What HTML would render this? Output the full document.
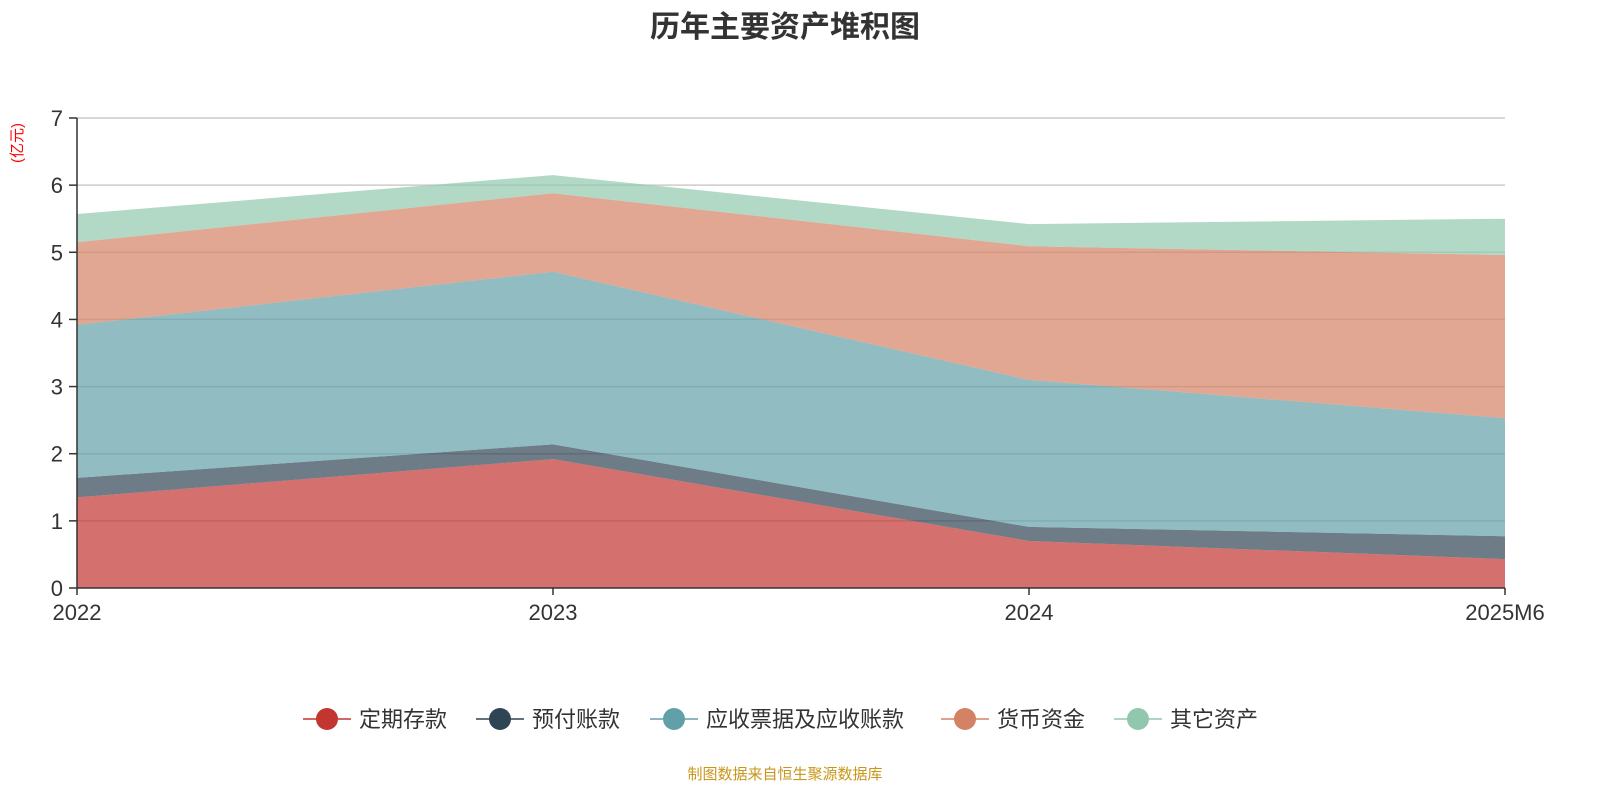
<!DOCTYPE html>
<html><head><meta charset="utf-8"><style>
body{margin:0;background:#fff;font-family:"Liberation Sans","Noto Sans CJK SC",sans-serif;}
</style></head><body>
<svg id="c" width="1600" height="800" xmlns="http://www.w3.org/2000/svg">
<text x="785" y="37" text-anchor="middle" font-size="30" font-weight="bold" fill="#333" font-family="Liberation Sans, Noto Sans CJK SC, sans-serif">历年主要资产堆积图</text>
<text transform="translate(22,143) rotate(-90)" text-anchor="middle" font-size="15" fill="#f00" font-family="Liberation Sans, Noto Sans CJK SC, sans-serif">(亿元)</text>
<g id="grid"></g><g id="areas"></g><g id="axes"></g><g id="legend"></g>
<text x="785" y="779" text-anchor="middle" font-size="15" fill="#c9961a" font-family="Liberation Sans, Noto Sans CJK SC, sans-serif">制图数据来自恒生聚源数据库</text>
</svg>
<script>
const categories=["2022","2023","2024","2025M6"];
const seriesNames=["定期存款","预付账款","应收票据及应收账款","货币资金","其它资产"];
const s0=[1.35,1.92,0.70,0.43];
const s1=[0.29,0.22,0.21,0.34];
const s2=[2.28,2.57,2.19,1.76];
const s3=[1.23,1.17,1.99,2.43];
const s4=[0.42,0.27,0.33,0.54];
const yTicks=[0,1,2,3,4,5,6,7];
const colors=["#c23531","#2f4554","#61a0a8","#d48265","#91c7ae"];
const NS="http://www.w3.org/2000/svg";
const X0=77,X1=1505,Y0=588,Y1=118,YMAX=7;
const xs=i=>X0+(X1-X0)*i/(categories.length-1);
const ys=v=>Y0-(Y0-Y1)*v/YMAX;
function mk(tag,attrs,parent){const e=document.createElementNS(NS,tag);for(const k in attrs)e.setAttribute(k,attrs[k]);parent.appendChild(e);return e;}
const F="Liberation Sans, Noto Sans CJK SC, sans-serif";
const grid=document.getElementById('grid'),areas=document.getElementById('areas'),axes=document.getElementById('axes'),leg=document.getElementById('legend');
yTicks.forEach(t=>{
 if(t>0){const l=mk('line',{x1:X0,x2:X1,y1:ys(t),y2:ys(t),stroke:'#ccc','stroke-width':1.5},grid);
 
 }
 const tk=mk('line',{x1:X0-8,x2:X0,y1:ys(t),y2:ys(t),stroke:'#333','stroke-width':1.5},axes);
 
 
 const tx=mk('text',{x:X0-14,y:ys(t)+8,'text-anchor':'end','font-size':22,fill:'#333','font-family':F},axes);
 tx.textContent=t;
 
 
});
const series=[s0,s1,s2,s3,s4];
let base=categories.map(()=>0);
series.forEach((s,k)=>{
 const top=base.map((b,i)=>b+s[i]);
 let d='';
 top.forEach((v,i)=>{d+=(i?'L':'M')+xs(i)+','+ys(v);});
 for(let i=base.length-1;i>=0;i--)d+='L'+xs(i)+','+ys(base[i]);
 const p=mk('path',{d:d+'Z',fill:colors[k],'fill-opacity':0.7},areas);
 
 
 base=top;
});
const ax=mk('line',{x1:X0,x2:X0,y1:Y1,y2:Y0,stroke:'#333','stroke-width':1.5},axes);


const bx=mk('line',{x1:X0,x2:X1,y1:Y0,y2:Y0,stroke:'#333','stroke-width':1.5},axes);


categories.forEach((c,i)=>{
 const tk=mk('line',{x1:xs(i),x2:xs(i),y1:Y0,y2:Y0+7,stroke:'#333','stroke-width':1.5},axes);
 
 
 const t=mk('text',{x:xs(i),y:Y0+32,'text-anchor':'middle','font-size':22,fill:'#333','font-family':F},axes);
 t.textContent=c;
 
 
});
const lx=[303,476,650,941,1114];
seriesNames.forEach((n,k)=>{
 const g=mk('g',{},leg);
 
 
 const x=lx[k];
 mk('line',{x1:x,x2:x+48,y1:719,y2:719,stroke:colors[k],'stroke-width':1.5},g);
 mk('circle',{cx:x+24,cy:719,r:11,fill:colors[k]},g);
 const t=mk('text',{x:x+56,y:727,'font-size':22,fill:'#333','font-family':F},g);
 t.textContent=n;
});
</script>
</body></html>
